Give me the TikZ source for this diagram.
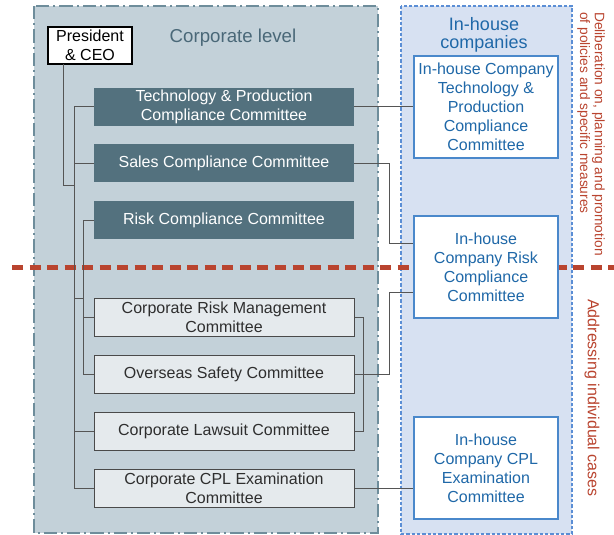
\documentclass[tikz,border=0pt]{standalone}
\usepackage{fontspec}
\setmainfont{Liberation Sans}
\usetikzlibrary{positioning}

\definecolor{corpfill}{HTML}{C3D1D9}
\definecolor{corpline}{HTML}{6E8D9B}
\definecolor{corpdark}{HTML}{53717E}
\definecolor{corptext}{HTML}{4A6878}
\definecolor{sublight}{HTML}{E5EAED}
\definecolor{subline}{HTML}{4A4A4A}
\definecolor{subtext}{HTML}{2E2E2E}
\definecolor{ihfill}{HTML}{D7E1F2}
\definecolor{ihline}{HTML}{5B8ED5}
\definecolor{ihboxline}{HTML}{4A88CB}
\definecolor{ihtext}{HTML}{1F68A8}
\definecolor{splitred}{HTML}{B9442F}
\definecolor{linkgray}{HTML}{555555}

\newcommand{\cmtfont}{\fontsize{12}{14.3}\selectfont}

\tikzset{
    darkcmt/.style={fill=corpdark, text=white, minimum width=195pt, minimum height=28.5pt,
        inner sep=0pt, align=center, font=\cmtfont},
    lightcmt/.style={draw=subline, line width=0.75pt, fill=sublight, text=subtext,
        minimum width=195pt, minimum height=28.5pt, inner sep=0pt, align=center, font=\cmtfont},
    ihcmt/.style={draw=ihboxline, line width=1.5pt, fill=white, text=ihtext,
        minimum width=108pt, minimum height=76.5pt, inner sep=0pt, align=center, font=\cmtfont},
    link/.style={draw=linkgray, line width=0.75pt}
}

\begin{document}
\begin{tikzpicture}[x=0.75pt, y=-0.75pt]
    \useasboundingbox (0,0) rectangle (614,535);

    % --- Bereiche ---
    \draw[corpline, fill=corpfill, line width=2pt, dash pattern=on 10pt off 3pt on 1.5pt off 3pt]
        (34,6) rectangle (378,533);
    \draw[ihline, fill=ihfill, line width=1.7pt, dash pattern=on 2.4pt off 1.6pt]
        (401,6) rectangle (572,534);

    % --- Trennlinie ---
    \draw[splitred, line width=3.75pt, dash pattern=on 8.25pt off 4.9pt] (12,267) -- (614,267);

    % --- Titel ---
    \node[text=corptext, font=\fontsize{14}{16}\selectfont] (corptitle) at (233,38) {Corporate level};
    \node[text=ihtext, align=center, font=\fontsize{13.5}{13.5}\selectfont] (ihtitle) at (484,35) {In-house\\companies};
    \node[rotate=-90, text=splitred, align=left, font=\fontsize{10.3}{11}\selectfont] (delib) at (591,134)
        {Deliberation on, planning and promotion\\of policies and specific measures};
    \node[rotate=-90, text=splitred, font=\fontsize{12}{14}\selectfont] (cases) at (592,398) {Addressing individual cases};

    % --- Konzernebene ---
    \node[draw=black, line width=0.8pt, fill=white, minimum width=63pt, minimum height=27.75pt,
        inner sep=0pt, align=center, font=\cmtfont] (pres) at (90,45.5) {President\\\& CEO};
    \node[darkcmt] (tech) at (224,107) {Technology \& Production\\Compliance Committee};
    \node[darkcmt] (sales) at (224,163) {Sales Compliance Committee};
    \node[darkcmt] (risk) at (224,220) {Risk Compliance Committee};
    \node[lightcmt] (crm) at (224,317.5) {Corporate Risk Management\\Committee};
    \node[lightcmt] (overseas) at (224,374.5) {Overseas Safety Committee};
    \node[lightcmt] (lawsuit) at (224,431.5) {Corporate Lawsuit Committee};
    \node[lightcmt] (cpl) at (224,488) {Corporate CPL Examination\\Committee};

    % --- In-house companies ---
    \node[ihcmt] (ihtech) at (486,107) {In-house Company\\Technology \&\\Production\\Compliance\\Committee};
    \node[ihcmt] (ihrisk) at (486,267) {In-house\\Company Risk\\Compliance\\Committee};
    \node[ihcmt] (ihcpl) at (486,468) {In-house\\Company CPL\\Examination\\Committee};

    % --- Verbindungen links ---
    \coordinate (presout) at (63,64);
    \coordinate (trunk) at (74,185);
    \coordinate (subjoin) at (83,298);
    \draw[link] (presout) |- (trunk);
    \draw[link] (tech.west -| trunk) -- (cpl.west -| trunk);
    \foreach \n in {tech, sales, lawsuit, cpl} {
        \draw[link] (\n.west) -- (\n.west -| trunk);
    }
    \draw[link] (risk.west -| subjoin) -- (overseas.west -| subjoin);
    \foreach \n in {risk, crm, overseas} {
        \draw[link] (\n.west) -- (\n.west -| subjoin);
    }
    \draw[link] (subjoin) -- (subjoin -| trunk);

    % --- Verbindungen rechts ---
    \coordinate (bracket) at (363,0);
    \coordinate (bendA) at (389,243);
    \coordinate (bendB) at (389,292);
    \draw[link] (tech.east) -- (ihtech.west);
    \draw[link] (sales.east) -| (bendA) -- (bendA -| ihrisk.west);
    \draw[link] (overseas.east) -| (bendB) -- (bendB -| ihrisk.west);
    \draw[link] (crm.east) -| (bracket |- lawsuit.east) -- (lawsuit.east);
    \draw[link] (cpl.east) -- (cpl.east -| ihcpl.west);
\end{tikzpicture}
\end{document}
